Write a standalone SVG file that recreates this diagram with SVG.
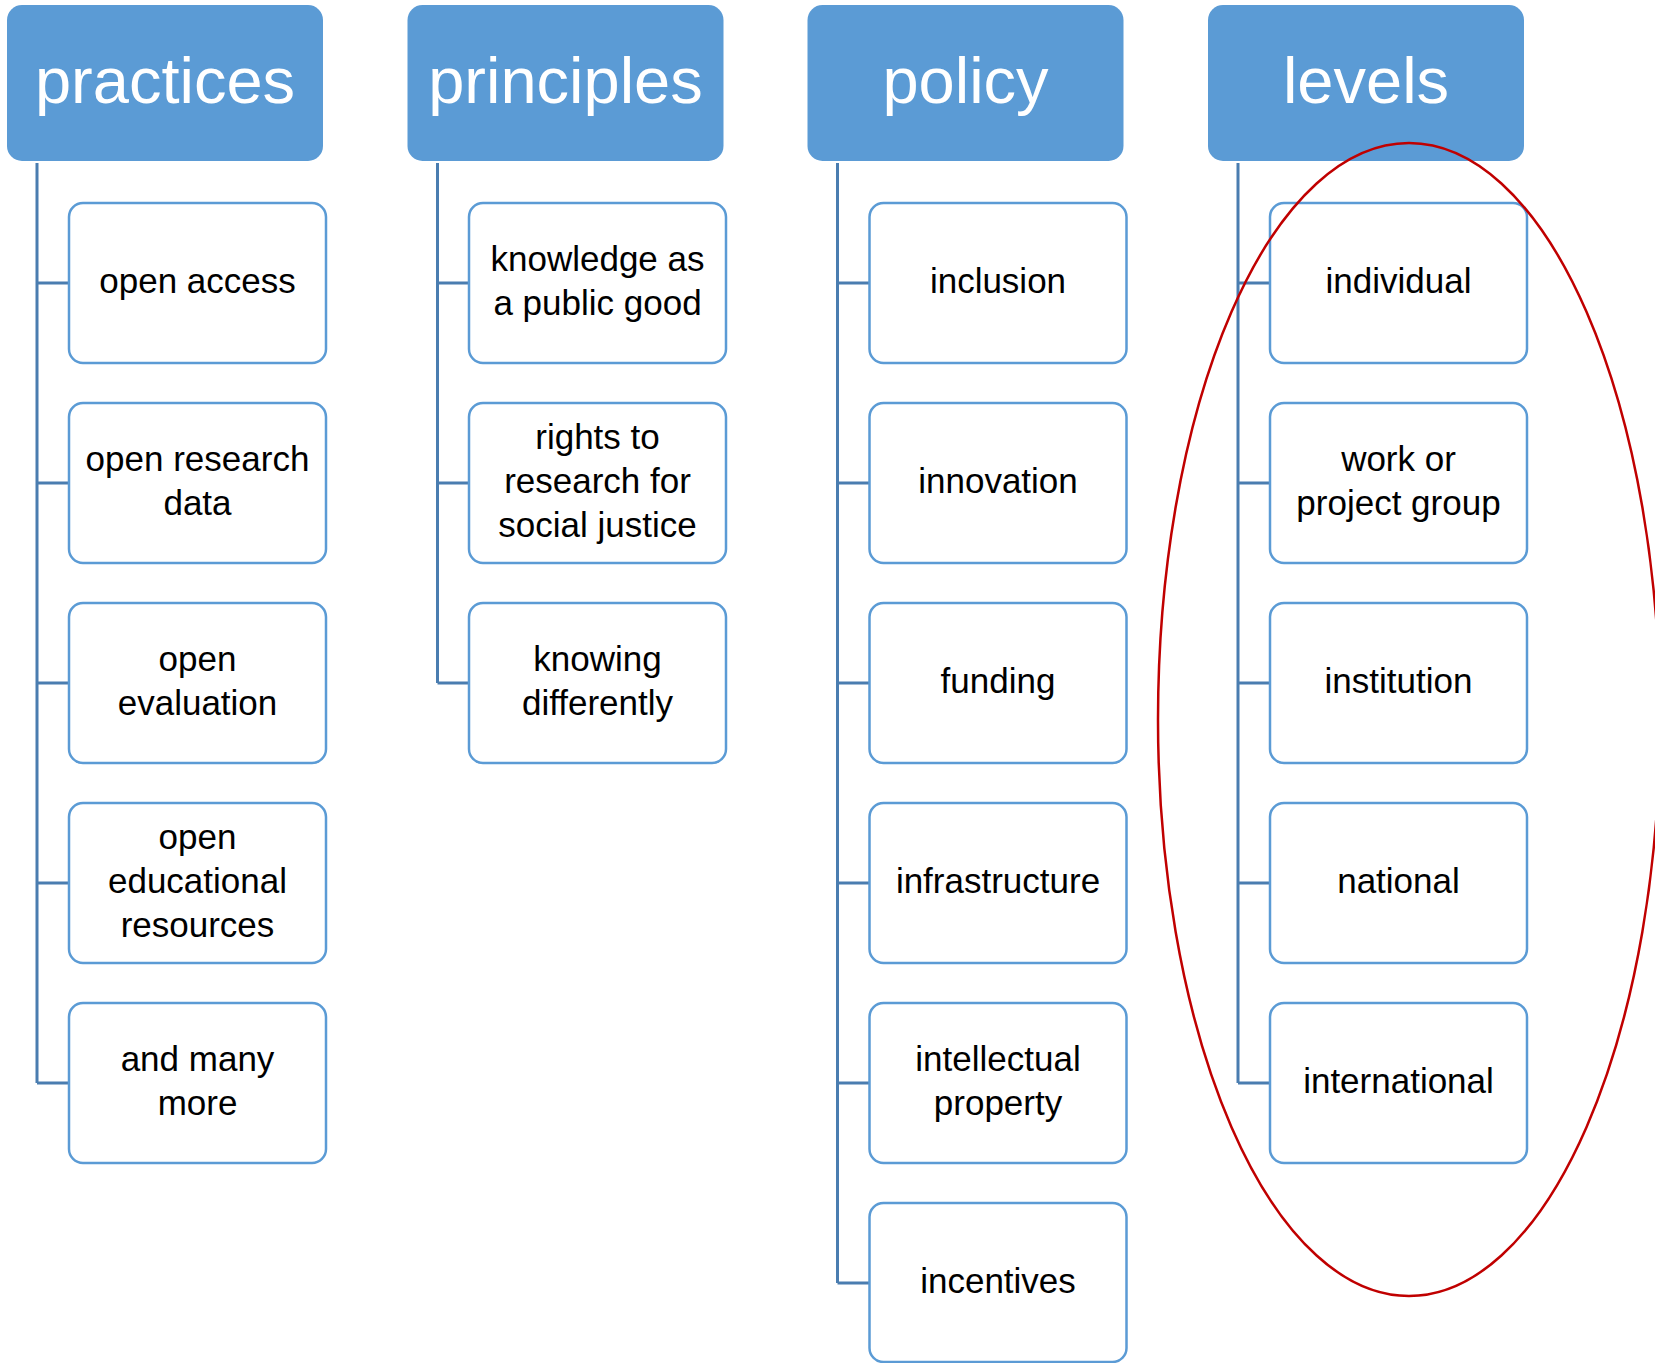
<svg xmlns="http://www.w3.org/2000/svg" width="1655" height="1363" viewBox="0 0 1655 1363">
<style>
.hdr{fill:#5B9BD5;}
.hdrt{fill:#FFFFFF;font-family:"Liberation Sans",Arial,sans-serif;font-size:65px;text-anchor:middle;}
.box{fill:#FFFFFF;stroke:#5B9BD5;stroke-width:2.5;}
.t{fill:#000000;font-family:"Liberation Sans",Arial,sans-serif;font-size:35px;text-anchor:middle;}
.con{fill:none;stroke:#4A7DB0;stroke-width:3;}
</style>
<rect width="1655" height="1363" fill="#FFFFFF"/>
<g id="connectors">
<path class="con" d="M37 163V1083M37 283H69M37 483H69M37 683H69M37 883H69M37 1083H69"/>
<path class="con" d="M437.5 163V683M437.5 283H469M437.5 483H469M437.5 683H469"/>
<path class="con" d="M837.5 163V1283M837.5 283H869.5M837.5 483H869.5M837.5 683H869.5M837.5 883H869.5M837.5 1083H869.5M837.5 1283H869.5"/>
<path class="con" d="M1238 163V1083M1238 283H1270M1238 483H1270M1238 683H1270M1238 883H1270M1238 1083H1270"/>
</g>
<g id="h-practices"><rect class="hdr" x="7" y="5" width="316" height="156" rx="15"/><text class="hdrt" x="165" y="103">practices</text></g>
<g id="h-principles"><rect class="hdr" x="407.5" y="5" width="316" height="156" rx="15"/><text class="hdrt" x="565.5" y="103">principles</text></g>
<g id="h-policy"><rect class="hdr" x="807.5" y="5" width="316" height="156" rx="15"/><text class="hdrt" x="965.5" y="103">policy</text></g>
<g id="h-levels"><rect class="hdr" x="1208" y="5" width="316" height="156" rx="15"/><text class="hdrt" x="1366" y="103">levels</text></g>

<g id="n-open-access"><rect class="box" x="69" y="203" width="257" height="160" rx="14"/><text class="t" x="197.5" y="293">open access</text></g>
<g id="n-open-research-data"><rect class="box" x="69" y="403" width="257" height="160" rx="14"/><text class="t" x="197.5" y="471">open research</text><text class="t" x="197.5" y="515">data</text></g>
<g id="n-open-evaluation"><rect class="box" x="69" y="603" width="257" height="160" rx="14"/><text class="t" x="197.5" y="671">open</text><text class="t" x="197.5" y="715">evaluation</text></g>
<g id="n-oer"><rect class="box" x="69" y="803" width="257" height="160" rx="14"/><text class="t" x="197.5" y="849">open</text><text class="t" x="197.5" y="893">educational</text><text class="t" x="197.5" y="937">resources</text></g>
<g id="n-many-more"><rect class="box" x="69" y="1003" width="257" height="160" rx="14"/><text class="t" x="197.5" y="1071">and many</text><text class="t" x="197.5" y="1115">more</text></g>

<g id="n-knowledge"><rect class="box" x="469" y="203" width="257" height="160" rx="14"/><text class="t" x="597.5" y="271">knowledge as</text><text class="t" x="597.5" y="315">a public good</text></g>
<g id="n-rights"><rect class="box" x="469" y="403" width="257" height="160" rx="14"/><text class="t" x="597.5" y="449">rights to</text><text class="t" x="597.5" y="493">research for</text><text class="t" x="597.5" y="537">social justice</text></g>
<g id="n-knowing"><rect class="box" x="469" y="603" width="257" height="160" rx="14"/><text class="t" x="597.5" y="671">knowing</text><text class="t" x="597.5" y="715">differently</text></g>

<g id="n-inclusion"><rect class="box" x="869.5" y="203" width="257" height="160" rx="14"/><text class="t" x="998" y="293">inclusion</text></g>
<g id="n-innovation"><rect class="box" x="869.5" y="403" width="257" height="160" rx="14"/><text class="t" x="998" y="493">innovation</text></g>
<g id="n-funding"><rect class="box" x="869.5" y="603" width="257" height="160" rx="14"/><text class="t" x="998" y="693">funding</text></g>
<g id="n-infrastructure"><rect class="box" x="869.5" y="803" width="257" height="160" rx="14"/><text class="t" x="998" y="893">infrastructure</text></g>
<g id="n-ip"><rect class="box" x="869.5" y="1003" width="257" height="160" rx="14"/><text class="t" x="998" y="1071">intellectual</text><text class="t" x="998" y="1115">property</text></g>
<g id="n-incentives"><rect class="box" x="869.5" y="1203" width="257" height="159" rx="14"/><text class="t" x="998" y="1293">incentives</text></g>

<g id="n-individual"><rect class="box" x="1270" y="203" width="257" height="160" rx="14"/><text class="t" x="1398.5" y="293">individual</text></g>
<g id="n-work-group"><rect class="box" x="1270" y="403" width="257" height="160" rx="14"/><text class="t" x="1398.5" y="471">work or</text><text class="t" x="1398.5" y="515">project group</text></g>
<g id="n-institution"><rect class="box" x="1270" y="603" width="257" height="160" rx="14"/><text class="t" x="1398.5" y="693">institution</text></g>
<g id="n-national"><rect class="box" x="1270" y="803" width="257" height="160" rx="14"/><text class="t" x="1398.5" y="893">national</text></g>
<g id="n-international"><rect class="box" x="1270" y="1003" width="257" height="160" rx="14"/><text class="t" x="1398.5" y="1093">international</text></g>

<g id="highlight"><ellipse cx="1409" cy="719.5" rx="251" ry="576.5" fill="none" stroke="#C00000" stroke-width="2.5"/></g>
</svg>
